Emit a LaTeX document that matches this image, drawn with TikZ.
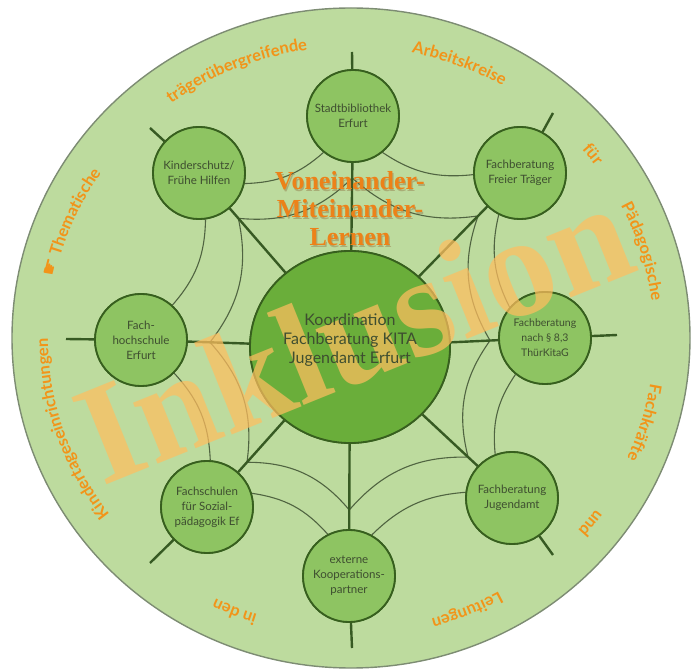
\documentclass[tikz,border=0pt]{standalone}
\usepackage{fontspec}
\setmainfont{Liberation Serif}
\newfontfamily\nodefont{Lato}
\newfontfamily\handfont{DejaVu Sans}
\usetikzlibrary{shapes.geometric,decorations.text,calc}
\definecolor{discfill}{RGB}{189,219,158}
\definecolor{discline}{RGB}{125,140,115}
\definecolor{nodefill}{RGB}{142,196,98}
\definecolor{centerfill}{RGB}{106,174,58}
\definecolor{nodeline}{RGB}{55,95,30}
\definecolor{spokec}{RGB}{55,90,35}
\definecolor{webc}{RGB}{80,100,65}
\definecolor{nodetext}{RGB}{62,78,48}
\definecolor{ringc}{RGB}{242,148,25}
\definecolor{inklc}{RGB}{255,190,95}
\definecolor{vonc}{RGB}{236,130,25}
\newcommand\ringstyle{\nodefont\bfseries\fontsize{16.5}{16.5}\selectfont}
\newcommand\ringword[2]{\path[decorate, decoration={text along path, text color=ringc, text align=center, text={|\ringstyle|#2}}] (351,332) ++(#1+32:303 and 291) arc[start angle=#1+32, end angle=#1-32, x radius=303, y radius=291];}
\tikzset{
  outernode/.style={circle, minimum size=92pt, inner sep=0pt, fill=nodefill, draw=nodeline, line width=1.8pt},
  centernode/.style={ellipse, minimum width=200pt, minimum height=192pt, inner sep=0pt, fill=centerfill, draw=nodeline, line width=1.8pt},
  spoke/.style={draw=spokec, line width=2.4pt},
  web/.style={draw=webc, line width=1.1pt},
  ntext/.style={align=center, text=nodetext, font=\nodefont\fontsize{11.5}{15}\selectfont, inner sep=0pt},
  vontext/.style={align=center, font=\bfseries\fontsize{26}{28}\selectfont, inner sep=0pt}
}
\begin{document}
\begin{tikzpicture}[x=1pt,y=1pt]
\useasboundingbox (0,0) rectangle (691,670);
\node[ellipse, minimum width=678pt, minimum height=660pt, inner sep=0pt, fill=discfill, draw=discline, line width=1.4pt] (disc) at (351,332) {};

% nodes (shapes only)
\node[centernode] (C) at (350,323) {};
\node[outernode] (Stadt) at (353,554) {};
\node[outernode] (Kinder) at (199,497) {};
\node[outernode] (Freier) at (520,497) {};
\node[outernode] (FHS) at (141,330) {};
\node[outernode] (Para) at (545,332) {};
\node[outernode] (FS) at (207,163) {};
\node[outernode] (JA) at (512,172) {};
\node[outernode] (ext) at (349,94) {};

% stub ends
\coordinate (sT) at (352,618);
\coordinate (sK) at (150,542);
\coordinate (sF) at (553,557);
\coordinate (sL) at (66,331);
\coordinate (sR) at (617,335);
\coordinate (sFS) at (150,107);
\coordinate (sJ) at (553,115);
\coordinate (sB) at (352,22);

% spoke points and junctions
\coordinate (pT) at ($(Stadt)!62pt!(C)$);
\coordinate (pL) at ($(FHS)!69pt!(C)$);
\coordinate (pR) at ($(Para)!55pt!(C)$);
\coordinate (pB) at ($(ext)!66pt!(C)$);
\coordinate (jK) at ($(Kinder)!60pt!(C)$);
\coordinate (jF) at ($(Freier)!60pt!(C)$);
\coordinate (jFS) at ($(FS)!60pt!(C)$);
\coordinate (jJ) at ($(JA)!60pt!(C)$);

% web: outer ring
\draw[web] (Para.139) to[bend left=20] (Freier.243);
\draw[web] (Freier.182) to[bend left=20] (Stadt.309);
\draw[web] (Stadt.231) to[bend left=20] (Kinder.347);
\draw[web] (Kinder.278) to[bend left=20] (FHS.48);
\draw[web] (FHS.-45) to[bend left=20] (FS.86);
\draw[web] (FS.17) to[bend left=20] (ext.117);
\draw[web] (ext.61) to[bend left=20] (JA.173);
\draw[web] (JA.111) to[bend left=20] (Para.231);
% web: inner ring
\draw[web] (pR) to[bend left=25] (jF);
\draw[web] (jF) to[bend left=25] (pT);
\draw[web] (pT) to[bend left=25] (jK);
\draw[web] (jK) to[bend left=25] (pL);
\draw[web] (pL) to[bend left=25] (jFS);
\draw[web] (jFS) to[bend left=25] (pB);
\draw[web] (pB) to[bend left=25] (jJ);
\draw[web] (jJ) to[bend left=25] (pR);

% spokes
\draw[spoke] (C) -- (Stadt);
\draw[spoke] (C) -- (Kinder);
\draw[spoke] (C) -- (Freier);
\draw[spoke] (C) -- (FHS);
\draw[spoke] (C) -- (Para);
\draw[spoke] (C) -- (FS);
\draw[spoke] (C) -- (JA);
\draw[spoke] (C) -- (ext);
% stubs
\draw[spoke] (Stadt) -- (sT);
\draw[spoke] (Kinder) -- (sK);
\draw[spoke] (Freier) -- (sF);
\draw[spoke] (FHS) -- (sL);
\draw[spoke] (Para) -- (sR);
\draw[spoke] (FS) -- (sFS);
\draw[spoke] (JA) -- (sJ);
\draw[spoke] (ext) -- (sB);

% redraw nodes over lines
\node[centernode] (C2) at (C) {};
\node[outernode] (Stadt2) at (Stadt) {};
\node[outernode] (Kinder2) at (Kinder) {};
\node[outernode] (Freier2) at (Freier) {};
\node[outernode] (FHS2) at (FHS) {};
\node[outernode] (Para2) at (Para) {};
\node[outernode] (FS2) at (FS) {};
\node[outernode] (JA2) at (JA) {};
\node[outernode] (ext2) at (ext) {};

% Voneinander
\node[vontext, text=brown!70!black, opacity=0.35] (vonshadow) at (351.2,459.8) {Voneinander-\\Miteinander-\\Lernen};
\node[vontext, text=vonc] (von) at (350,461) {Voneinander-\\Miteinander-\\Lernen};

% ring words
\path[decorate, decoration={text along path, text color=ringc, text align=center, text={|\handfont\fontsize{20}{20}\selectfont|☛|\ringstyle| Thematische}}] (351,332) ++(190:303 and 291) arc[start angle=190, end angle=124, x radius=303, y radius=291];
\ringword{112.5}{trägerübergreifende}
\ringword{69}{Arbeitskreise}
\ringword{38}{für}
\ringword{17}{Pädagogische}
\ringword{-16.5}{Fachkräfte}
\ringword{-38.5}{und}
\ringword{-67.5}{Leitungen}
\ringword{-112.5}{in den}
\ringword{198.5}{Kindertageseinrichtungen}

% Inklusion watermark
\node[rotate=22, anchor=base, text=inklc, text opacity=0.72, font=\bfseries\fontsize{143}{143}\selectfont, inner sep=0pt] (inkl) at (372,292) {Inklusion};

% node texts
\node[ntext, font=\nodefont\fontsize{16}{19}\selectfont] (tC) at (350,330) {Koordination\\Fachberatung KITA\\Jugendamt Erfurt};
\node[ntext] (tStadt) at (Stadt) {Stadtbibliothek\\Erfurt};
\node[ntext] (tKinder) at (Kinder) {Kinderschutz/\\Frühe Hilfen};
\node[ntext] (tFreier) at (Freier) {Fachberatung\\Freier Träger};
\node[ntext] (tFHS) at (FHS) {Fach-\\hochschule\\Erfurt};
\node[ntext, font=\nodefont\fontsize{10.5}{15}\selectfont] (tPara) at (Para) {Fachberatung\\nach § 8,3\\ThürKitaG};
\node[ntext] (tFS) at (FS) {Fachschulen\\für Sozial-\\pädagogik Ef};
\node[ntext] (tJA) at (JA) {Fachberatung\\Jugendamt};
\node[ntext] (text) at (ext) {externe\\Kooperations-\\partner};
\end{tikzpicture}
\end{document}
